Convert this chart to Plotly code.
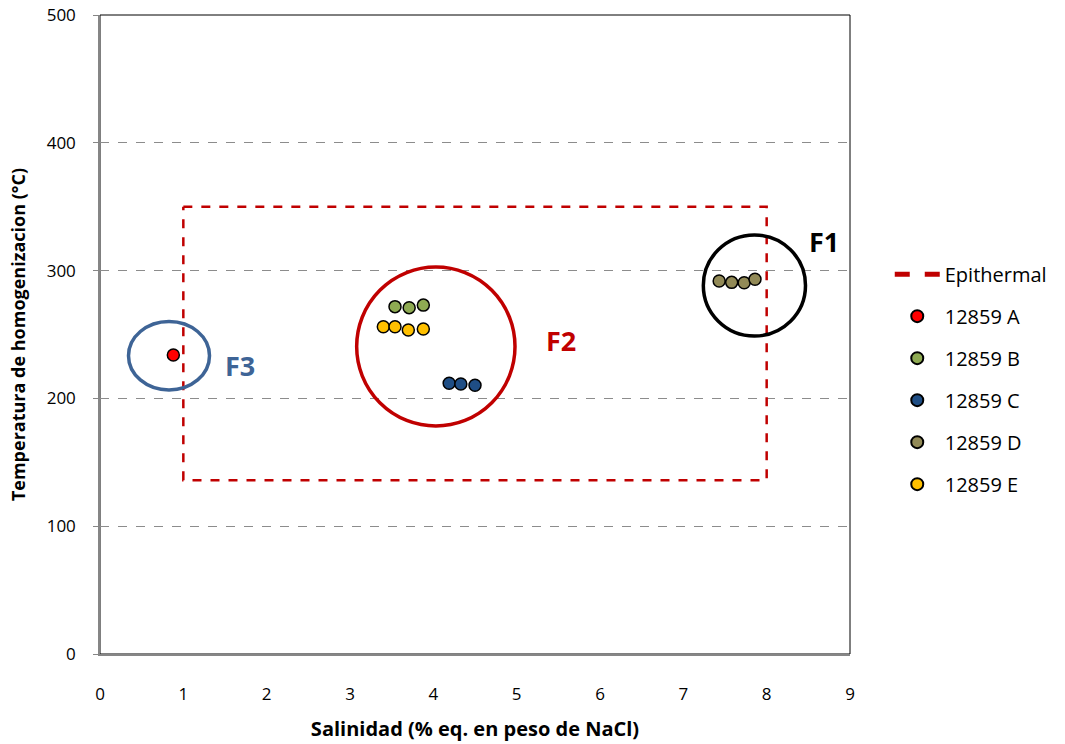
import plotly.graph_objects as go

# Fluid-inclusion microthermometry, sample 12859
series_names = ["12859 A", "12859 B", "12859 C", "12859 D", "12859 E"]
series_colors = ["#FF0000", "#8EAA52", "#1F4E85", "#928A57", "#FFC000"]
salinity = [
    [0.88],
    [3.54, 3.71, 3.88],
    [4.19, 4.33, 4.50],
    [7.43, 7.58, 7.73, 7.86],
    [3.40, 3.54, 3.70, 3.88],
]
temperature = [
    [234],
    [271.8, 271.0, 273.0],
    [211.8, 211.3, 210.3],
    [291.9, 290.8, 290.5, 293.2],
    [256.0, 256.0, 253.5, 254.3],
]

# Epithermal field (salinity range, temperature range)
epi_sal = [1.0, 8.0]
epi_temp = [136, 350]

# Fluid families: name, x0, x1, y0, y1, colour
family_names = ["F1", "F2", "F3"]
family_x = [[7.24, 8.466], [3.08, 4.98], [0.342, 1.314]]
family_y = [[248.8, 327.9], [178.4, 302.8], [206.6, 260.2]]
family_colors = ["#000000", "#C00000", "#3E6496"]
family_label_pos = [[8.69, 323], [5.53, 245], [1.68, 226]]

x_ticks = list(range(0, 10))
y_ticks = [0, 100, 200, 300, 400, 500]

FONT = "'Open Sans', Lato, sans-serif"

fig = go.Figure()

# Epithermal box drawn as a closed dashed path
fig.add_trace(go.Scatter(
    x=[epi_sal[0], epi_sal[1], epi_sal[1], epi_sal[0], epi_sal[0]],
    y=[epi_temp[1], epi_temp[1], epi_temp[0], epi_temp[0], epi_temp[1]],
    mode="lines",
    name="Epithermal",
    line=dict(color="#C00000", width=2.5, dash="dash"),
    legendgroup="epi",
    hoverinfo="skip",
))

for name, color, xs, ys in zip(series_names, series_colors, salinity, temperature):
    fig.add_trace(go.Scatter(
        x=xs, y=ys, mode="markers", name=name, legendgroup=name,
        marker=dict(size=12, color=color, line=dict(color="#000000", width=1.5)),
    ))

shapes = []
annotations = []
for name, xr, yr, col, pos in zip(family_names, family_x, family_y, family_colors, family_label_pos):
    shapes.append(dict(type="circle", xref="x", yref="y",
                       x0=xr[0], x1=xr[1], y0=yr[0], y1=yr[1],
                       line=dict(color=col, width=3.5), layer="above"))
    annotations.append(dict(x=pos[0], y=pos[1], xref="x", yref="y", text="<b>%s</b>" % name,
                            showarrow=False, font=dict(family=FONT, size=27, color=col)))

# plot-area frame
shapes.append(dict(type="rect", xref="paper", yref="paper", x0=0, x1=1, y0=0, y1=1,
                   line=dict(color="#000000", width=1), layer="below"))

fig.update_layout(
    width=1065, height=744,
    margin=dict(l=100, r=215, t=15, b=90, autoexpand=False),
    paper_bgcolor="white", plot_bgcolor="white",
    font=dict(family=FONT, size=17, color="#000000"),
    shapes=shapes, annotations=annotations,
    showlegend=True,
    legend=dict(x=1.053, xanchor="left", y=0.625, yanchor="top",
                font=dict(family=FONT, size=20, color="#000000"),
                tracegroupgap=13, itemsizing="constant", itemwidth=45,
                bgcolor="rgba(0,0,0,0)"),
)

fig.update_xaxes(
    range=[0, 9], tickvals=x_ticks, ticktext=[str(v) for v in x_ticks],
    showgrid=False, zeroline=False, automargin=False,
    showline=True, linecolor="#868686", linewidth=1.5,
    ticks="", ticklabelstandoff=24, tickfont=dict(family=FONT, size=17),
    title=dict(text="<b>Salinidad (% eq. en peso de NaCl)</b>",
               font=dict(family=FONT, size=20), standoff=18),
)
fig.update_yaxes(
    range=[0, 500], tickvals=y_ticks, ticktext=[str(v) for v in y_ticks],
    showgrid=True, gridcolor="#8C8C8C", griddash="dash", gridwidth=1,
    zeroline=False, automargin=False,
    showline=True, linecolor="#868686", linewidth=1.5,
    ticks="outside", ticklen=5, tickcolor="#868686", ticklabelstandoff=14,
    tickfont=dict(family=FONT, size=17),
    title=dict(text="<b>Temperatura de homogenizacion (°C)</b>",
               font=dict(family=FONT, size=18), standoff=16),
)

fig.write_html("out.html")
